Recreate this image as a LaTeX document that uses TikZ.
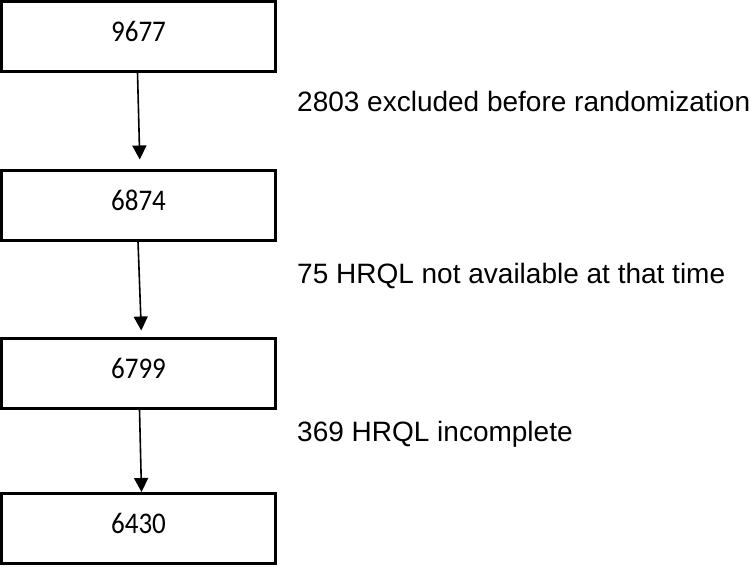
\documentclass[tikz,border=0pt]{standalone}
\usepackage{fontspec}
\setmainfont{Liberation Sans}
\newfontfamily\numfont{Carlito}
\usetikzlibrary{arrows.meta}
\tikzset{
  stepbox/.style={draw=black, line width=3pt, minimum width=274pt, minimum height=70pt, inner sep=0pt, text height=10.5pt, text depth=0pt, font=\numfont\fontsize{30}{35}\selectfont},
  flow/.style={line width=1.6pt, -{Triangle[length=14pt,width=14pt]}},
  lbl/.style={anchor=base west, inner sep=0pt, font=\fontsize{28}{33}\selectfont}
}
\newcommand{\numtxt}[1]{\scalebox{0.9}[1]{#1}}
\begin{document}
\begin{tikzpicture}[x=1pt,y=-1pt]
\useasboundingbox (0,0) rectangle (750,566);
\node[stepbox] (b1) at (138.5,36) {\numtxt{9677}};
\node[stepbox] (b2) at (138.5,205) {\numtxt{6874}};
\node[stepbox] (b3) at (138.5,373) {\numtxt{6799}};
\node[stepbox] (b4) at (138.5,528.5) {\numtxt{6430}};
\draw[flow, shorten >=9pt] ([xshift=-1pt]b1.south) -- ([xshift=1.5pt]b2.north);
\draw[flow, shorten >=6pt] ([xshift=-0.5pt]b2.south) -- ([xshift=3pt]b3.north);
\draw[flow] ([xshift=1pt]b3.south) -- ([xshift=3pt]b4.north);
\node[lbl] (l1) at (297,111) {2803 excluded before randomization};
\node[lbl] (l2) at (297,283) {75 HRQL not available at that time};
\node[lbl] (l3) at (297,441.5) {369 HRQL incomplete};
\end{tikzpicture}
\end{document}
